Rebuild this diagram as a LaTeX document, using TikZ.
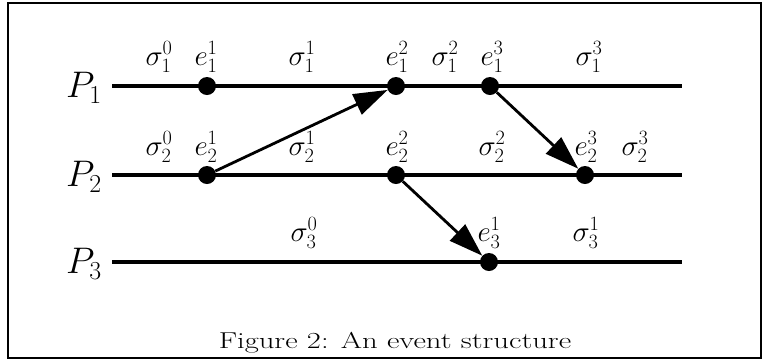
\RequirePackage{fix-cm}
\documentclass[tikz,border=0pt]{standalone}
\usetikzlibrary{arrows.meta}
\begin{document}
\begin{tikzpicture}[x=1pt,y=-1pt,
  frame/.style={line width=2pt},
  proc/.style={line width=3.2pt},
  evt/.style={circle,fill=black,inner sep=0pt,minimum size=18pt},
  lbl/.style={font=\fontsize{29}{34}\selectfont,inner sep=0pt},
  plbl/.style={font=\fontsize{37}{44}\selectfont,inner sep=0pt},
  captext/.style={font=\fontsize{23}{27}\selectfont,inner sep=0pt,xscale=1.33,transform shape},
  msg/.style={line width=2.8pt,-{Triangle[length=34pt,width=22pt]}}]
\useasboundingbox (0,0) rectangle (763,360);
\draw[frame] (8,3) rectangle (761,358);
% process labels
\node[plbl] (P1) at (84,88) {$P_1$};
\node[plbl] (P2) at (84,177) {$P_2$};
\node[plbl] (P3) at (84,264) {$P_3$};
% line ends
\coordinate (s1) at (112,86);  \coordinate (t1) at (682,86);
\coordinate (s2) at (112,175); \coordinate (t2) at (682,175);
\coordinate (s3) at (112,262); \coordinate (t3) at (682,262);
\draw[proc] (s1) -- (t1);
\draw[proc] (s2) -- (t2);
\draw[proc] (s3) -- (t3);
% events
\node[evt] (e11) at (207,86) {};
\node[evt] (e12) at (396,86) {};
\node[evt] (e13) at (490,86) {};
\node[evt] (e21) at (207,175) {};
\node[evt] (e22) at (396,175) {};
\node[evt] (e23) at (585,175) {};
\node[evt] (e31) at (489,262) {};
% messages
\draw[msg] (e21) -- (e12);
\draw[msg] (e13) -- (e23);
\draw[msg] (e22) -- (e31);
% labels row 1
\node[lbl] (l10) at (159,57) {$\sigma_1^0$};
\node[lbl] (l11) at (206,57) {$e_1^1$};
\node[lbl] (l12) at (302,57) {$\sigma_1^1$};
\node[lbl] (l13) at (397,57) {$e_1^2$};
\node[lbl] (l14) at (445,57) {$\sigma_1^2$};
\node[lbl] (l15) at (492,57) {$e_1^3$};
\node[lbl] (l16) at (589,57) {$\sigma_1^3$};
% labels row 2
\node[lbl] (l20) at (159,147) {$\sigma_2^0$};
\node[lbl] (l21) at (206,147) {$e_2^1$};
\node[lbl] (l22) at (302,147) {$\sigma_2^1$};
\node[lbl] (l23) at (397,147) {$e_2^2$};
\node[lbl] (l24) at (492,147) {$\sigma_2^2$};
\node[lbl] (l25) at (586,147) {$e_2^3$};
\node[lbl] (l26) at (635,147) {$\sigma_2^3$};
% labels row 3
\node[lbl] (l30) at (304,233) {$\sigma_3^0$};
\node[lbl] (l31) at (489,233) {$e_3^1$};
\node[lbl] (l32) at (586,233) {$\sigma_3^1$};
% caption
\node[captext,anchor=base] (caption) at (395,348) {Figure 2: An event structure};
\end{tikzpicture}
\end{document}
